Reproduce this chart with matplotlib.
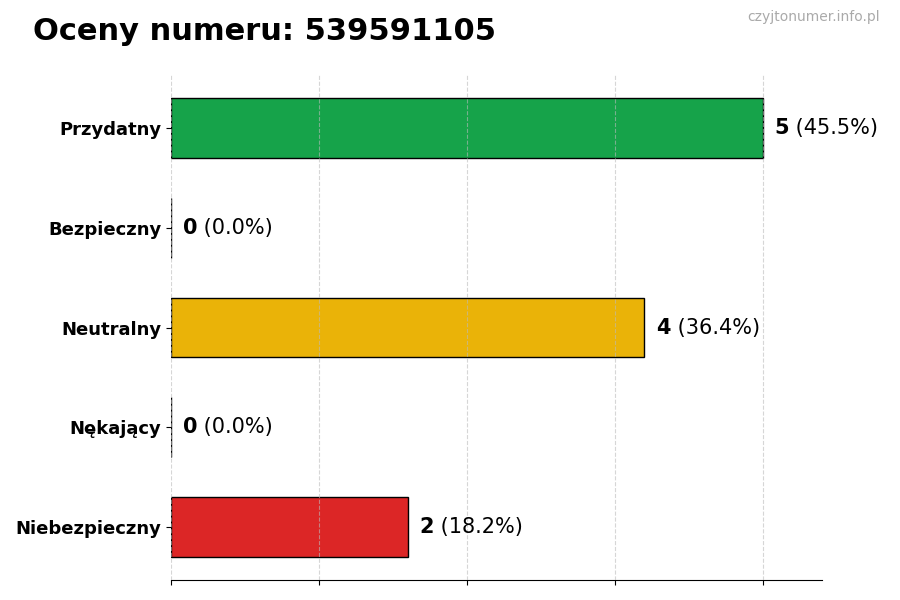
import matplotlib.pyplot as plt

categories = ['Przydatny', 'Bezpieczny', 'Neutralny', 'Nękający', 'Niebezpieczny']
counts = [5, 0, 4, 0, 2]
percents = [45.5, 0.0, 36.4, 0.0, 18.2]
colors = ['#16a34a', '#16a34a', '#eab308', '#dc2626', '#dc2626']
number = '539591105'

fig = plt.figure(figsize=(9, 6), dpi=100)
ax = fig.add_axes([0.19, 0.0333, 0.7233, 0.8417])

y = list(range(len(categories)))
ax.barh(y, counts, height=0.6, color=colors, edgecolor='black', linewidth=1, zorder=2)
ax.invert_yaxis()
ax.set_xlim(0, 5.5)
ax.set_xticks([0, 1.25, 2.5, 3.75, 5])
ax.set_xticklabels([])
ax.set_yticks(y)
ax.set_yticklabels(categories, fontsize=13, fontweight='bold')
ax.grid(axis='x', linestyle='--', color='#bbbbbb', alpha=0.6, zorder=3)
ax.set_axisbelow(False)
for s in ['top', 'right', 'left']:
    ax.spines[s].set_visible(False)

for i, (c, p) in enumerate(zip(counts, percents)):
    t = ax.text(c + 0.1, i, str(c), fontsize=15, fontweight='bold', va='center', ha='left')
    ax.annotate(f' ({p:.1f}%)', xy=(1, 0.5), xycoords=t, va='center', ha='left', fontsize=15)

fig.text(33 / 900, 1 - 31 / 600, f'Oceny numeru: {number}', fontsize=22, fontweight='bold', va='center', ha='left')
fig.text(880 / 900, 1 - 17 / 600, 'czyjtonumer.info.pl', fontsize=10, color='#aaaaaa', va='center', ha='right')

fig.savefig('out.png', dpi=100)
